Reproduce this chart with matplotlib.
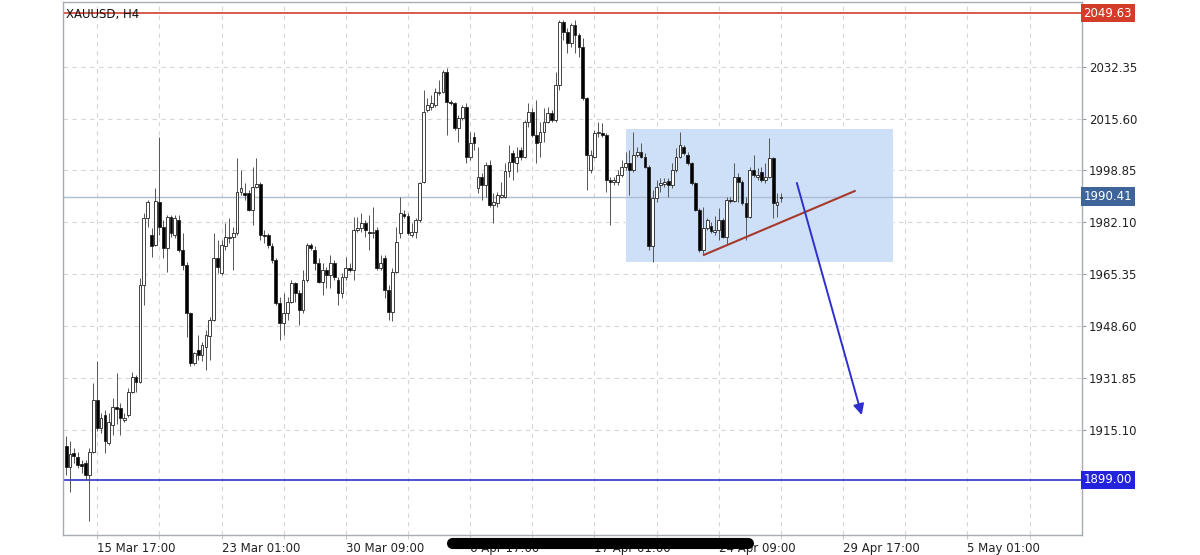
import matplotlib
matplotlib.use("Agg")
import matplotlib.pyplot as plt
from matplotlib.lines import Line2D
from matplotlib.patches import Rectangle
import matplotlib.transforms as mtransforms

# XAUUSD H4 candles (oldest first)
opens = [
    1909.8, 1903.3, 1907.6, 1906.5, 1904.0, 1904.4, 1900.6, 1908.1, 1924.8, 1915.7,
    1920.0, 1910.8, 1916.7, 1922.6, 1922.1, 1918.4, 1920.0, 1927.5, 1932.1, 1930.7,
    1961.9, 1983.4, 1978.0, 1974.8, 1988.8, 1980.7, 1973.7, 1983.9, 1978.0, 1982.9,
    1973.2, 1968.4, 1952.8, 1936.6, 1940.9, 1939.3, 1942.0, 1945.5, 1950.6, 1970.5,
    1965.7, 1974.3, 1977.0, 1977.5, 1978.6, 1992.0, 1991.5, 1991.5, 1986.1, 1993.6,
    1994.4, 1978.0, 1978.0, 1974.3, 1970.0, 1956.0, 1949.5, 1952.8, 1956.5, 1962.4,
    1959.2, 1953.8, 1963.5, 1974.8, 1973.2, 1968.9, 1963.0, 1966.7, 1965.1, 1968.9,
    1963.5, 1959.2, 1964.6, 1967.3, 1966.7, 1979.6, 1980.2, 1981.8, 1979.1, 1978.6,
    1979.6, 1967.3, 1970.5, 1960.3, 1953.3, 1966.2, 1978.8, 1984.8, 1984.1, 1978.0,
    1979.1, 1982.9, 1995.2, 2018.3, 2019.4, 2019.9, 2023.7, 2024.3, 2030.7, 2021.0,
    2020.5, 2012.4, 2015.7, 2019.4, 2003.3, 2009.7, 1993.1, 1996.8, 1994.1, 2000.6,
    1987.7, 1988.2, 1990.4, 1990.4, 1998.8, 2004.4, 2001.1, 2005.4, 2003.3, 2014.6,
    2017.8, 2010.3, 2008.1, 2011.4, 2014.6, 2017.3, 2015.1, 2026.4, 2046.8, 2043.6,
    2039.9, 2045.8, 2042.5, 2038.8, 2022.1, 1999.0, 2003.3, 2010.8, 2010.8, 2010.3,
    1995.8, 1995.0, 1995.2, 1997.4, 2000.1, 2001.1, 1999.0, 2003.8, 2004.9, 2003.3,
    2000.1, 1974.3, 1989.9, 1994.1, 1994.5, 1995.5, 1994.1, 1999.0, 2003.3, 2006.5,
    2003.8, 2001.1, 1994.7, 1986.1, 1973.2, 1980.2, 1980.9, 1979.1, 1979.6, 1982.9,
    1977.5, 1989.3, 1989.0, 1996.8, 1995.2, 1988.2, 1983.9, 1999.0, 1996.8, 1998.5,
    1995.8, 1996.8, 2002.8, 1987.7, 1989.8,
]
highs = [
    1913.0, 1911.4, 1909.2, 1908.1, 1905.5, 1905.5, 1909.2, 1930.2, 1937.2, 1920.5,
    1921.6, 1920.5, 1925.3, 1933.4, 1923.7, 1920.5, 1928.6, 1933.9, 1932.9, 1964.0,
    1985.0, 1989.3, 1980.2, 1993.1, 2009.7, 1982.9, 1984.5, 1984.5, 1984.5, 1984.5,
    1978.6, 1969.4, 1953.3, 1940.4, 1945.8, 1943.6, 1947.4, 1951.7, 1978.6, 1976.4,
    1976.4, 1981.8, 1983.4, 1980.7, 2002.8, 1999.0, 1994.7, 1992.5, 2000.1, 2002.8,
    1995.2, 1979.6, 1978.6, 1975.3, 1970.5, 1958.1, 1959.2, 1958.1, 1963.5, 1963.0,
    1960.3, 1966.7, 1975.3, 1975.3, 1974.3, 1970.5, 1968.9, 1967.8, 1971.6, 1970.0,
    1964.6, 1965.7, 1971.0, 1968.9, 1983.9, 1983.9, 1985.0, 1982.9, 1984.5, 1987.2,
    1980.7, 1971.6, 1971.6, 1961.9, 1967.3, 1980.7, 1990.4, 1986.1, 1985.0, 1981.8,
    1983.4, 1995.2, 2024.8, 2022.1, 2023.2, 2025.3, 2028.0, 2031.2, 2031.8, 2021.6,
    2021.0, 2016.7, 2020.0, 2020.5, 2011.4, 2011.4, 2006.5, 1997.9, 2001.7, 2002.2,
    1991.5, 1992.0, 1995.2, 2001.1, 2007.0, 2005.4, 2006.5, 2006.5, 2015.1, 2020.5,
    2018.9, 2021.6, 2014.6, 2018.9, 2019.4, 2018.4, 2030.7, 2047.4, 2047.4, 2044.7,
    2046.3, 2047.4, 2043.1, 2041.5, 2022.6, 2005.4, 2011.9, 2014.6, 2014.1, 2010.8,
    1996.8, 1996.8, 1999.0, 2002.2, 2004.9, 2005.4, 2011.4, 2006.5, 2007.6, 2004.4,
    2000.6, 1992.5, 1995.8, 1996.3, 1996.3, 1996.3, 2001.1, 2006.0, 2011.4, 2007.0,
    2004.9, 2001.7, 1995.2, 1986.6, 1987.2, 1983.4, 1982.3, 1984.0, 1986.6, 1983.4,
    1990.4, 1990.4, 2001.1, 1997.9, 1995.8, 1990.4, 2000.1, 2003.8, 1999.5, 2000.1,
    2001.1, 2009.2, 2003.3, 1991.5, 1991.5,
]
lows = [
    1900.6, 1895.2, 1904.4, 1902.8, 1901.2, 1899.0, 1885.6, 1907.6, 1914.6, 1914.1,
    1907.6, 1910.3, 1913.5, 1917.0, 1913.5, 1917.8, 1919.4, 1927.0, 1927.5, 1930.2,
    1955.4, 1980.7, 1971.0, 1974.3, 1978.0, 1970.5, 1966.2, 1977.5, 1976.9, 1972.6,
    1966.7, 1945.2, 1935.6, 1936.1, 1937.7, 1937.2, 1934.5, 1937.7, 1950.1, 1965.7,
    1965.1, 1973.2, 1975.3, 1966.7, 1978.0, 1990.9, 1989.3, 1985.6, 1981.2, 1993.1,
    1976.4, 1975.3, 1973.7, 1968.9, 1955.5, 1944.2, 1945.8, 1950.6, 1956.0, 1956.5,
    1949.0, 1952.8, 1963.0, 1973.2, 1966.7, 1962.4, 1958.7, 1960.8, 1960.8, 1963.5,
    1955.5, 1957.6, 1963.5, 1966.2, 1963.5, 1979.1, 1979.1, 1977.5, 1973.2, 1976.9,
    1966.7, 1966.7, 1957.6, 1950.6, 1950.1, 1965.7, 1976.9, 1983.4, 1978.0, 1977.5,
    1976.9, 1982.3, 1994.7, 2017.8, 2018.3, 2019.4, 2023.2, 2023.7, 2010.3, 2020.0,
    2011.9, 2008.1, 2015.1, 2001.1, 2002.2, 2005.4, 1991.5, 1989.3, 1990.4, 1987.2,
    1981.8, 1987.2, 1989.9, 1989.9, 1996.8, 1995.8, 1998.5, 2002.2, 2002.8, 2013.0,
    2009.7, 2001.1, 2003.3, 2008.1, 2014.1, 2014.6, 2014.6, 2024.8, 2040.9, 2036.6,
    2038.8, 2036.6, 2035.5, 2021.6, 1992.5, 1997.9, 2002.8, 2009.7, 2009.7, 1992.0,
    1981.2, 1994.1, 1994.1, 1996.8, 1999.0, 1990.9, 1998.5, 2003.3, 2002.8, 1999.5,
    1973.2, 1969.4, 1988.8, 1992.0, 1993.6, 1990.4, 1993.1, 1998.5, 2002.8, 2003.8,
    2000.6, 1994.1, 1985.6, 1972.6, 1971.6, 1979.6, 1978.6, 1978.0, 1976.4, 1977.0,
    1974.8, 1988.2, 1988.8, 1988.8, 1987.7, 1976.4, 1983.4, 1996.8, 1995.8, 1995.2,
    1994.7, 1996.3, 1983.4, 1983.9, 1988.8,
]
closes = [
    1903.3, 1907.3, 1906.7, 1903.8, 1903.5, 1900.6, 1908.1, 1924.8, 1915.7, 1918.9,
    1911.4, 1917.8, 1922.6, 1922.0, 1918.9, 1919.1, 1927.5, 1932.3, 1930.7, 1961.9,
    1983.4, 1988.8, 1974.3, 1989.0, 1980.7, 1973.7, 1983.9, 1978.5, 1983.4, 1973.2,
    1968.4, 1952.8, 1936.6, 1939.9, 1939.3, 1942.6, 1945.8, 1950.6, 1970.5, 1967.8,
    1974.8, 1977.5, 1977.5, 1978.6, 1992.0, 1993.1, 1991.0, 1986.1, 1993.6, 1994.4,
    1978.0, 1977.7, 1974.8, 1970.0, 1956.0, 1949.5, 1952.8, 1956.5, 1962.4, 1959.2,
    1953.8, 1963.5, 1974.8, 1973.7, 1968.9, 1963.0, 1966.7, 1965.1, 1968.9, 1964.6,
    1959.2, 1964.6, 1967.3, 1966.7, 1979.6, 1980.2, 1981.8, 1979.6, 1978.6, 1979.1,
    1967.3, 1968.9, 1960.3, 1953.3, 1966.2, 1975.9, 1985.0, 1984.3, 1978.5, 1979.1,
    1982.9, 1994.7, 2017.8, 2019.9, 2020.5, 2024.3, 2024.3, 2030.7, 2021.0, 2020.5,
    2012.4, 2015.7, 2019.4, 2003.3, 2007.6, 2007.6, 1996.8, 1994.1, 2000.6, 1987.7,
    1988.8, 1990.9, 1990.9, 1998.8, 2001.7, 2001.7, 2003.3, 2003.3, 2014.6, 2017.8,
    2010.3, 2007.6, 2011.4, 2014.6, 2017.3, 2015.1, 2026.4, 2046.8, 2043.6, 2039.9,
    2045.8, 2042.5, 2038.8, 2022.1, 2003.8, 2003.8, 2010.8, 2011.4, 2010.3, 1995.8,
    1995.2, 1995.8, 1997.4, 2000.1, 2001.1, 1999.0, 2003.8, 2004.9, 2003.3, 2000.1,
    1974.3, 1989.9, 1993.6, 1994.7, 1995.2, 1994.1, 1999.0, 2003.3, 2007.0, 2004.4,
    2001.1, 1994.7, 1986.1, 1973.2, 1980.2, 1982.9, 1979.4, 1979.6, 1982.9, 1977.5,
    1989.3, 1989.0, 1996.8, 1995.2, 1988.2, 1983.9, 1999.0, 1997.4, 1997.4, 1995.8,
    1996.8, 2002.8, 1988.2, 1988.8, 1990.41,
]

# price axis labels and date labels (bar index of each date label)
price_ticks = [1915.10, 1931.85, 1948.60, 1965.35, 1982.10, 1998.85, 2015.60, 2032.35]
date_labels = ["15 Mar 17:00", "23 Mar 01:00", "30 Mar 09:00", "6 Apr 17:00",
               "17 Apr 01:00", "24 Apr 09:00", "29 Apr 17:00", "5 May 01:00"]
date_label_bars = [8, 40, 72, 104, 136, 168, 200, 232]
grid_bars = list(range(8, 256, 16))

# drawn objects
resistance = 2049.63
support = 1899.00
last_price = 1990.41
box_bars = (144.2, 212.8)
box_prices = (1969.3, 2012.2)
trend_bars = (164.2, 203.0)
trend_prices = (1971.6, 1992.2)
arrow_bars = (188.1, 204.8)
arrow_prices = (1994.8, 1919.9)

W, H = 1200, 555
fig = plt.figure(figsize=(W / 100, H / 100), dpi=100)
ax = fig.add_axes([63 / W, 1 - 535 / H, (1082 - 63) / W, (535 - 2) / H])

ax.set_xlim(-0.8, 261.5)
ax.set_ylim(1881.2, 2053.2)

# grid
ax.set_yticks(price_ticks)
ax.set_yticklabels([f"{p:.2f}" for p in price_ticks])
ax.set_xticks(date_label_bars)
ax.set_xticklabels(date_labels)
ax.set_xticks(grid_bars, minor=True)
ax.grid(True, which="both", color="#d6d6d6", linestyle=(0, (4, 4)), linewidth=0.8)
ax.set_axisbelow(True)

ax.yaxis.tick_right()
ax.tick_params(axis="y", which="both", length=3, color="#9a9a9a", pad=2,
               labelsize=8.5, labelcolor="#222222")
ax.tick_params(axis="x", which="both", length=3, color="#c8c8c8", pad=2,
               labelsize=8.5, labelcolor="#222222")
for lab in ax.get_xticklabels():
    lab.set_horizontalalignment("left")
for side in ax.spines.values():
    side.set_color("#a8adb4")
    side.set_linewidth(1.0)

# consolidation box
ax.add_patch(Rectangle((box_bars[0], box_prices[0]), box_bars[1] - box_bars[0],
                       box_prices[1] - box_prices[0], facecolor="#cde0f8",
                       edgecolor="none", zorder=1))

# horizontal levels
ax.axhline(resistance, color="#d0402c", linewidth=1.2, zorder=2)
ax.axhline(support, color="#3030cc", linewidth=1.2, zorder=2)
ax.axhline(last_price, color="#aebdd0", linewidth=1.0, zorder=2)

# candles
idx = list(range(len(closes)))
ax.vlines(idx, lows, highs, color="#555555", linewidth=0.7, zorder=3)
bottoms = [min(o, c) for o, c in zip(opens, closes)]
heights = [max(abs(c - o), 0.15) for o, c in zip(opens, closes)]
colors = ["white" if c >= o else "black" for o, c in zip(opens, closes)]
ax.bar(idx, heights, bottom=bottoms, width=0.72, color=colors,
       edgecolor="#222222", linewidth=0.6, zorder=4)

# trend line and arrow
ax.plot(trend_bars, trend_prices, color="#a6392c", linewidth=1.5, zorder=5)
ax.annotate("", xy=(arrow_bars[1], arrow_prices[1]), xytext=(arrow_bars[0], arrow_prices[0]),
            arrowprops=dict(arrowstyle="-|>", color="#2f2fd0", lw=1.4,
                            mutation_scale=16, shrinkA=0, shrinkB=0), zorder=6)

# title
ax.text(0.003, 0.988, "XAUUSD, H4", transform=ax.transAxes, fontsize=8.5,
        color="#111111", va="top", ha="left", zorder=7)

# price tags on the right scale
trans = mtransforms.blended_transform_factory(ax.transAxes, ax.transData)
for value, bg in [(resistance, "#d23c28"), (last_price, "#3e6499"), (support, "#2323dc")]:
    ax.text(1.0015, value, f"{value:.2f}", transform=trans, fontsize=8.5, color="white",
            va="center", ha="left", zorder=10, clip_on=False,
            bbox=dict(boxstyle="square,pad=0.22", facecolor=bg, edgecolor="none"))

# blacked-out date labels in the screenshot
fig.add_artist(Line2D([452 / W, 748 / W], [1 - 543 / H, 1 - 543 / H], color="black",
                      linewidth=8, solid_capstyle="round"))

fig.savefig("out.png", dpi=100, facecolor="white")
